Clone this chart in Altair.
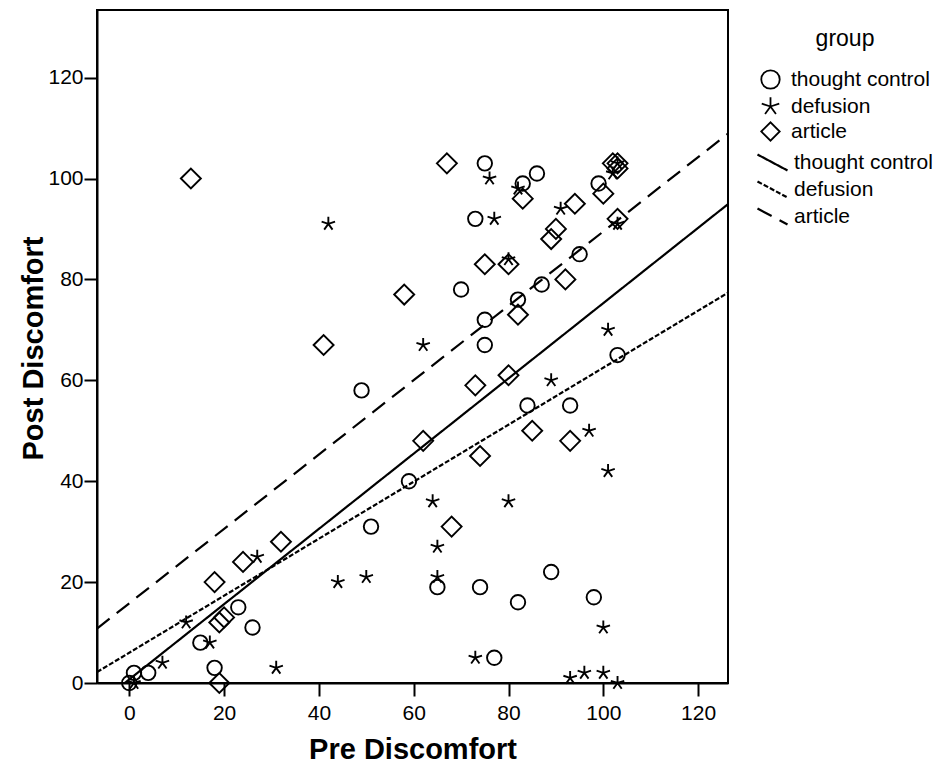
import altair as alt
import pandas as pd

groups = ["thought control", "defusion", "article"]

tc_pre = [0, 1, 4, 15, 18, 23, 26, 49, 51, 59, 65, 70, 73, 75, 75, 75, 74, 77, 82, 82,
          83, 84, 86, 87, 89, 93, 95, 98, 99, 103]
tc_post = [0, 2, 2, 8, 3, 15, 11, 58, 31, 40, 19, 78, 92, 103, 72, 67, 19, 5, 76, 16,
           99, 55, 101, 79, 22, 55, 85, 17, 99, 65]

def_pre = [76, 82, 77, 91, 102, 103, 103, 80, 62, 101, 42, 27, 44, 50, 12, 17, 7, 31, 1, 89,
           97, 101, 64, 80, 65, 65, 100, 73, 93, 96, 100, 103]
def_post = [100, 98, 92, 94, 101, 91, 103, 84, 67, 70, 91, 25, 20, 21, 12, 8, 4, 3, 0, 60,
            50, 42, 36, 36, 27, 21, 11, 5, 1, 2, 2, 0]

art_pre = [67, 83, 94, 100, 103, 103, 102, 90, 89, 103, 75, 80, 58, 92, 82, 13, 41, 32, 24, 18,
           19, 20, 19, 80, 73, 85, 93, 62, 74, 68]
art_post = [103, 96, 95, 97, 103, 102, 103, 90, 88, 92, 83, 83, 77, 80, 73, 100, 67, 28, 24, 20,
            12, 13, 0, 61, 59, 50, 48, 48, 45, 31]

# fit lines (intercept, slope)
fit_intercept = [0.7, 6.0, 15.8]
fit_slope = [0.746, 0.565, 0.737]

x_domain = [-6.8, 126.3]
y_domain = [0, 133.4]
x_ticks = [0, 20, 40, 60, 80, 100, 120]
y_ticks = [0, 20, 40, 60, 80, 100, 120]

rows = []
for g, xs, ys in zip(groups, [tc_pre, def_pre, art_pre], [tc_post, def_post, art_post]):
    for a, b in zip(xs, ys):
        rows.append({"group": g, "pre": a, "post": b})
points = pd.DataFrame(rows)

line_rows = []
for g, a, b in zip(groups, fit_intercept, fit_slope):
    for xv in x_domain:
        line_rows.append({"fit": g, "pre": xv, "post": a + b * xv})
lines = pd.DataFrame(line_rows)

STAR = "M0,0L0,-1M0,0L0.95,-0.31M0,0L0.59,0.81M0,0L-0.59,0.81M0,0L-0.95,-0.31"
LINE_SYM = "M-1.5,-0.8L1.5,0.8"
FONT = "Liberation Sans"

x_enc = alt.X("pre:Q", scale=alt.Scale(domain=x_domain, nice=False, zero=False),
              axis=alt.Axis(title="Pre Discomfort", values=x_ticks, grid=False,
                            titleX=315.5, titleY=66, titleBaseline="middle", titleAlign="center"))
y_enc = alt.Y("post:Q", scale=alt.Scale(domain=y_domain, nice=False, zero=False),
              axis=alt.Axis(title="Post Discomfort", values=y_ticks, grid=False,
                            titleX=-64, titleY=338, titleAngle=270, titleBaseline="middle",
                            titleAlign="center"))

shape_legend = alt.Legend(
    title="group", orient="none", legendX=663, legendY=18,
    titleFont=FONT, titleFontSize=23, titleFontWeight="normal", titleColor="black",
    titleAnchor="middle", titlePadding=18,
    labelFont=FONT, labelFontSize=21, labelColor="black", labelOffset=10, labelLimit=200,
    symbolStrokeColor="black", symbolFillColor="white", symbolStrokeWidth=1.8,
    symbolSize=340, rowPadding=0, padding=0,
)

pts = alt.Chart(points).transform_calculate(
    msize="datum.group === 'article' ? 400 : (datum.group === 'defusion' ? 200 : 210)"
).mark_point(filled=False, color="black", strokeWidth=1.9, opacity=1).encode(
    x=x_enc,
    y=y_enc,
    shape=alt.Shape("group:N", scale=alt.Scale(domain=groups, range=["circle", STAR, "diamond"]),
                    legend=shape_legend),
    size=alt.Size("msize:Q", scale=None, legend=None),
)

line_legend = alt.Legend(
    title=None, orient="none", legendX=664, legendY=141,
    labelFont=FONT, labelFontSize=21, labelColor="black", labelOffset=10, labelLimit=200,
    symbolType=LINE_SYM, symbolSize=400, symbolStrokeColor="black", symbolStrokeWidth=2.2,
    rowPadding=2, padding=0,
)

lns = alt.Chart(lines).mark_line(color="black", strokeWidth=2.2, clip=True).encode(
    x="pre:Q",
    y="post:Q",
    strokeDash=alt.StrokeDash("fit:N", sort=groups,
                              scale=alt.Scale(range=[[1, 0], [5, 2], [16, 9]]),
                              legend=line_legend),
)

chart = alt.layer(lns, pts).properties(
    width=631, height=673,
    autosize=alt.AutoSizeParams(type="none"),
    padding={"left": 89, "top": 2, "right": 209, "bottom": 81},
).configure_view(
    stroke="black", strokeWidth=2
).configure_axis(
    domainColor="black", domainWidth=2, tickColor="black", tickWidth=2, tickSize=13,
    labelFont=FONT, labelFontSize=21, labelColor="black",
    titleFont=FONT, titleFontSize=29, titleFontWeight="bold", titleColor="black",
).configure_axisX(
    labelPadding=6,
).configure_axisY(
    labelPadding=1,
)

chart.save("out.html", embed_options={"renderer": "svg", "actions": False})
